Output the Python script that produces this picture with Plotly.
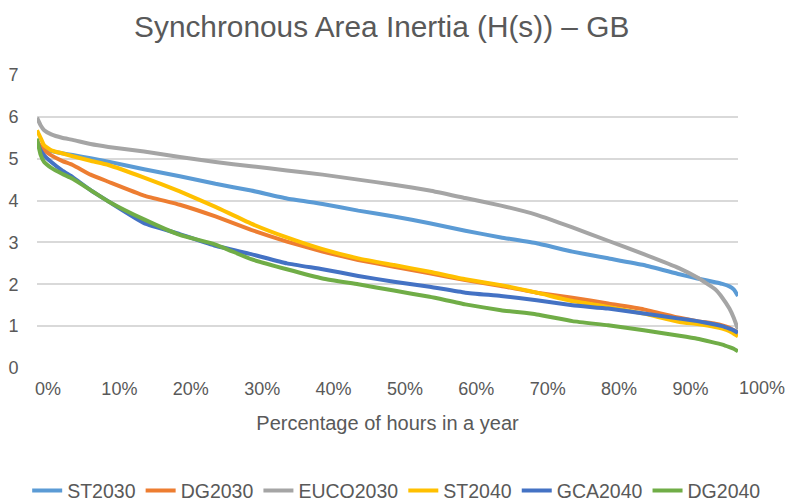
import plotly.graph_objects as go

# Percentage of hours in a year (duration curve sample points)
hours_pct = [0, 0.5, 1, 2, 3.5, 5, 7.5, 10, 15, 20, 25, 30, 35, 40, 45, 50, 55, 60,
             65, 70, 75, 80, 85, 90, 92.5, 95, 96, 97, 97.6, 98.2]

st2030 = [5.34, 5.28, 5.24, 5.18, 5.13, 5.09, 5.01, 4.93, 4.75, 4.58, 4.40, 4.24, 4.05, 3.92,
          3.76, 3.62, 3.46, 3.28, 3.12, 2.98, 2.78, 2.62, 2.46, 2.24, 2.14, 2.05, 2.01, 1.95,
          1.88, 1.72]
dg2030 = [5.42, 5.30, 5.20, 5.08, 4.95, 4.85, 4.62, 4.45, 4.12, 3.90, 3.62, 3.30, 3.02, 2.78,
          2.58, 2.42, 2.26, 2.10, 1.96, 1.80, 1.68, 1.54, 1.40, 1.20, 1.12, 1.06, 1.02, 0.96,
          0.90, 0.84]
euco2030 = [5.98, 5.80, 5.68, 5.58, 5.50, 5.45, 5.35, 5.28, 5.17, 5.04, 4.92, 4.82, 4.72, 4.62,
            4.50, 4.38, 4.24, 4.06, 3.88, 3.66, 3.36, 3.04, 2.72, 2.38, 2.16, 1.88, 1.68, 1.42,
            1.20, 0.92]
st2040 = [5.68, 5.50, 5.32, 5.20, 5.13, 5.06, 4.95, 4.85, 4.55, 4.22, 3.85, 3.45, 3.12, 2.84,
          2.62, 2.46, 2.30, 2.12, 1.98, 1.80, 1.60, 1.46, 1.30, 1.10, 1.05, 0.98, 0.94, 0.88,
          0.82, 0.76]
gca2040 = [5.40, 5.20, 5.08, 4.92, 4.72, 4.56, 4.25, 3.98, 3.46, 3.20, 2.92, 2.72, 2.50, 2.36,
           2.20, 2.06, 1.94, 1.80, 1.72, 1.62, 1.50, 1.42, 1.30, 1.18, 1.12, 1.04, 1.00, 0.94,
           0.90, 0.84]
dg2040 = [5.48, 5.10, 4.92, 4.78, 4.64, 4.52, 4.25, 3.98, 3.55, 3.18, 2.95, 2.60, 2.36, 2.14,
          2.00, 1.85, 1.70, 1.52, 1.38, 1.28, 1.12, 1.02, 0.90, 0.77, 0.70, 0.60, 0.56, 0.50,
          0.46, 0.40]

series_names = ["ST2030", "DG2030", "EUCO2030", "ST2040", "GCA2040", "DG2040"]
series_values = [st2030, dg2030, euco2030, st2040, gca2040, dg2040]
colors = ["#5B9BD5", "#ED7D31", "#A5A5A5", "#FFC000", "#4472C4", "#70AD47"]

x_ticks = [0, 10, 20, 30, 40, 50, 60, 70, 80, 90, 100]
y_ticks = [0, 1, 2, 3, 4, 5, 6, 7]

FONT = "Liberation Sans, Arial, sans-serif"
TEXT = "#595959"

fig = go.Figure()
for name, vals, col in zip(series_names, series_values, colors):
    fig.add_trace(go.Scatter(x=hours_pct, y=vals, mode="lines", name=name,
                             line=dict(color=col, width=4, shape="spline", smoothing=0.4)))

x_max = max(hours_pct)
in_range = [v for v in x_ticks if v <= x_max]
out_range = [v for v in x_ticks if v > x_max]

fig.update_layout(
    width=787, height=503,
    margin=dict(l=37, r=49, t=75, b=135, autoexpand=False),
    paper_bgcolor="white", plot_bgcolor="white",
    font=dict(family=FONT, color=TEXT),
    title=dict(text="Synchronous Area Inertia (H(s)) – GB", x=0.485, xref="container",
               xanchor="center", y=1 - 27 / 503, yref="container", yanchor="middle",
               font=dict(size=29.8, color=TEXT, family=FONT)),
    showlegend=True,
    legend=dict(orientation="h", x=-0.014, xref="paper", xanchor="left",
                y=-0.419, yref="paper", yanchor="middle",
                font=dict(size=19.5, color=TEXT), itemwidth=30, tracegroupgap=0),
    xaxis=dict(range=[0, x_max], tickvals=in_range,
               ticktext=[f"{v}%" for v in in_range], showgrid=False, zeroline=False,
               showline=False, ticks="outside", ticklen=4, tickcolor="rgba(0,0,0,0)",
               ticklabelshift=11, tickfont=dict(size=18, color=TEXT),
               title=dict(text="Percentage of hours in a year",
                          font=dict(size=20, color=TEXT), standoff=18)),
    yaxis=dict(range=[0, 7], tickvals=y_ticks, showgrid=True, gridcolor="#D9D9D9",
               gridwidth=2, zeroline=False, showline=False, ticks="outside", ticklen=14,
               tickcolor="rgba(0,0,0,0)", tickfont=dict(size=18, color=TEXT)),
)

for v in out_range:
    fig.add_annotation(x=v / x_max, xref="paper", y=0, yref="y", text=f"{v}%",
                       showarrow=False, xshift=11, yshift=-20, xanchor="center",
                       yanchor="middle", font=dict(size=18, color=TEXT, family=FONT))

fig.write_html("out.html")
